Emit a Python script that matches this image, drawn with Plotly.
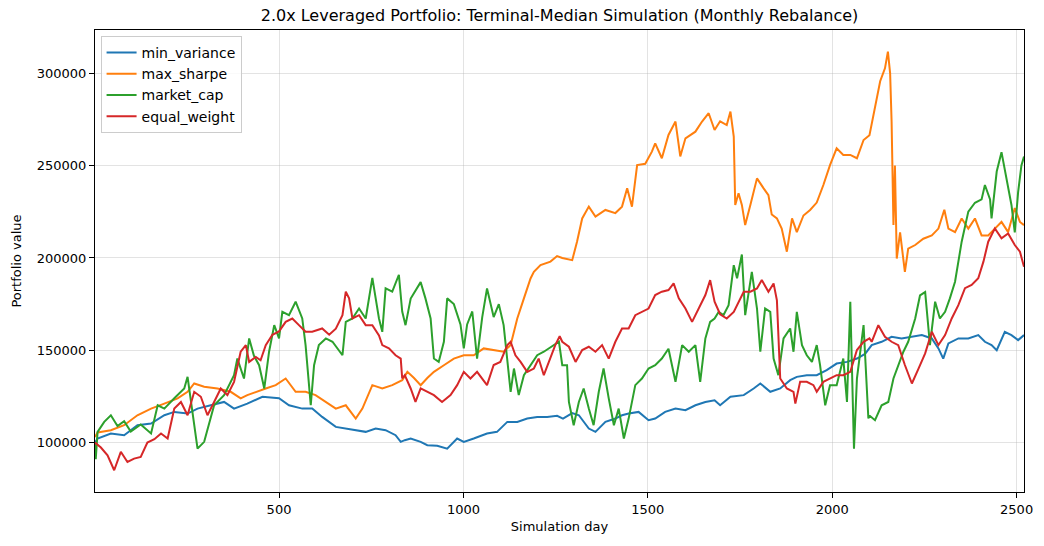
import plotly.graph_objects as go

mv_days = [1, 8, 44, 80, 116, 153, 189, 216, 252, 279, 315, 351, 378, 414, 455, 500, 527, 563, 590, 617, 654, 681, 708, 735, 762, 789, 816, 830, 841, 857, 884, 902, 929, 956, 983, 1001, 1028, 1064, 1091, 1119, 1146, 1173, 1200, 1227, 1254, 1270, 1295, 1313, 1340, 1358, 1385, 1412, 1430, 1448, 1475, 1502, 1520, 1547, 1575, 1602, 1629, 1656, 1681, 1696, 1724, 1760, 1787, 1805, 1832, 1859, 1886, 1904, 1931, 1958, 1985, 2012, 2040, 2067, 2089, 2107, 2134, 2161, 2188, 2216, 2243, 2270, 2288, 2301, 2315, 2342, 2369, 2396, 2414, 2432, 2446, 2468, 2486, 2504, 2520]
mv_vals = [100000, 102200, 104900, 104000, 109400, 110300, 114800, 116600, 115700, 118400, 120200, 122000, 118400, 121100, 124800, 124000, 120200, 118400, 118400, 113900, 108500, 107600, 106700, 105800, 107600, 106700, 104000, 100400, 101300, 102200, 100400, 98600, 98300, 96700, 102200, 100400, 102200, 104900, 105800, 111200, 111200, 113000, 113900, 113900, 114500, 113000, 116000, 114800, 107600, 105800, 111200, 113000, 114800, 115700, 116600, 112100, 113000, 116600, 118400, 117500, 120200, 122000, 122900, 120200, 124800, 125700, 129300, 132000, 127500, 129300, 133800, 135600, 136500, 136500, 139200, 142800, 143700, 145500, 148000, 152800, 154600, 157300, 156400, 157300, 158200, 156400, 151000, 145500, 153700, 156400, 156400, 158200, 154600, 152800, 150000, 160000, 158200, 155500, 158200]

ms_days = [1, 8, 44, 80, 116, 153, 189, 225, 252, 270, 297, 333, 369, 396, 414, 437, 464, 491, 518, 545, 572, 599, 627, 654, 681, 699, 708, 726, 753, 780, 807, 834, 848, 866, 884, 902, 920, 947, 974, 1001, 1028, 1055, 1082, 1109, 1128, 1146, 1164, 1182, 1191, 1209, 1236, 1254, 1268, 1295, 1308, 1322, 1340, 1358, 1385, 1412, 1430, 1444, 1457, 1471, 1493, 1511, 1520, 1538, 1556, 1575, 1588, 1602, 1629, 1647, 1665, 1681, 1696, 1714, 1724, 1733, 1737, 1746, 1755, 1764, 1778, 1796, 1814, 1827, 1836, 1850, 1863, 1877, 1891, 1904, 1922, 1940, 1958, 1976, 1994, 2012, 2030, 2049, 2067, 2085, 2101, 2116, 2130, 2143, 2151, 2157, 2161, 2166, 2170, 2175, 2184, 2197, 2206, 2225, 2247, 2270, 2288, 2304, 2315, 2333, 2351, 2369, 2387, 2405, 2423, 2441, 2459, 2477, 2495, 2509, 2520]
ms_vals = [103000, 105500, 106700, 109400, 114800, 118400, 121100, 123900, 127500, 132000, 130200, 129300, 127500, 123900, 125700, 127500, 129300, 131100, 134700, 127500, 127500, 125700, 122000, 118400, 120200, 115700, 113000, 118400, 131100, 129300, 131100, 133800, 138300, 135000, 131100, 135000, 138300, 141900, 145500, 147300, 147300, 151000, 150100, 149200, 152800, 167200, 178100, 188900, 192500, 196100, 198000, 201000, 200000, 198800, 208800, 221400, 227800, 222400, 226000, 224300, 227800, 237700, 227800, 250300, 251000, 257600, 262100, 254000, 266600, 273900, 255000, 264800, 268400, 273900, 278400, 269300, 274000, 272000, 279300, 265700, 228700, 235000, 228700, 217800, 228700, 243100, 237700, 234000, 223500, 221400, 215900, 203400, 221400, 214000, 223000, 226000, 230000, 239500, 250300, 259400, 255800, 255800, 254000, 263900, 266500, 281000, 295700, 302700, 311800, 300000, 273800, 217800, 250000, 199700, 213800, 192400, 205000, 207000, 210400, 212200, 215900, 226100, 215900, 214000, 221400, 215900, 221400, 212200, 212200, 215900, 219500, 214000, 227000, 219500, 217800]

mc_days = [1, 3, 8, 26, 44, 62, 80, 98, 125, 153, 171, 189, 216, 243, 252, 279, 297, 324, 351, 378, 387, 405, 419, 432, 446, 460, 473, 487, 500, 509, 527, 545, 563, 572, 586, 595, 608, 627, 645, 672, 681, 699, 717, 735, 753, 771, 780, 789, 807, 825, 834, 843, 857, 884, 897, 911, 920, 933, 947, 956, 974, 992, 1001, 1010, 1024, 1037, 1051, 1064, 1082, 1096, 1109, 1119, 1128, 1137, 1150, 1164, 1182, 1200, 1218, 1245, 1259, 1268, 1281, 1286, 1299, 1313, 1326, 1340, 1353, 1367, 1380, 1394, 1408, 1421, 1435, 1448, 1466, 1484, 1502, 1520, 1538, 1556, 1575, 1593, 1611, 1629, 1642, 1656, 1669, 1681, 1692, 1705, 1719, 1733, 1742, 1755, 1764, 1782, 1796, 1805, 1818, 1832, 1841, 1854, 1868, 1886, 1895, 1904, 1918, 1931, 1945, 1958, 1967, 1981, 1994, 2012, 2030, 2040, 2049, 2059, 2067, 2085, 2098, 2100, 2116, 2134, 2152, 2166, 2179, 2193, 2206, 2225, 2238, 2252, 2265, 2279, 2292, 2306, 2319, 2333, 2351, 2369, 2387, 2405, 2414, 2428, 2432, 2446, 2459, 2477, 2486, 2495, 2504, 2513, 2520]
mc_vals = [100000, 91000, 105800, 111200, 114800, 109000, 111600, 106000, 109800, 104900, 120200, 118400, 124000, 129300, 135600, 96700, 100400, 120200, 125700, 136500, 145500, 134700, 156400, 147000, 141900, 129300, 149200, 163600, 156400, 170800, 169000, 176300, 167200, 152800, 120200, 141900, 152800, 156400, 154600, 147300, 165400, 167200, 172600, 167200, 189200, 167200, 160000, 183500, 181700, 190900, 171000, 163600, 178000, 186900, 178100, 167200, 145500, 143700, 154600, 178100, 175000, 164000, 151000, 164000, 171000, 145500, 168000, 183500, 168000, 175000, 163600, 145500, 127500, 140100, 125700, 136500, 141900, 147300, 149200, 152800, 154600, 141900, 141900, 122000, 109400, 122000, 129300, 118400, 109400, 127500, 140100, 123900, 109400, 118400, 102200, 113000, 131100, 134700, 140100, 141900, 145500, 150800, 132900, 152800, 149200, 152800, 132900, 156400, 165400, 167200, 170800, 169000, 174400, 196100, 189000, 201900, 169000, 192500, 172600, 149200, 172600, 170800, 145500, 136500, 156400, 161800, 149200, 170800, 152800, 147300, 143700, 152800, 141900, 120200, 131100, 131100, 145500, 122000, 176300, 96700, 134700, 163600, 113000, 114800, 112100, 120200, 122000, 134700, 141900, 149200, 154600, 167200, 179700, 181500, 152800, 176300, 167200, 170800, 178100, 187100, 208800, 225100, 229900, 231700, 239500, 231700, 221400, 246800, 257300, 239500, 228700, 213800, 235500, 250100, 254900]

ew_days = [1, 17, 35, 53, 71, 89, 107, 125, 143, 162, 180, 198, 216, 234, 252, 270, 288, 306, 324, 342, 360, 378, 396, 410, 419, 437, 450, 464, 482, 500, 518, 536, 554, 572, 590, 617, 636, 654, 672, 681, 690, 699, 717, 735, 753, 771, 780, 798, 816, 830, 834, 841, 857, 870, 884, 902, 920, 942, 965, 983, 1001, 1019, 1037, 1064, 1082, 1100, 1119, 1128, 1141, 1155, 1173, 1191, 1204, 1218, 1236, 1249, 1261, 1268, 1286, 1304, 1322, 1340, 1358, 1376, 1394, 1412, 1430, 1448, 1466, 1484, 1502, 1520, 1538, 1556, 1570, 1584, 1602, 1620, 1638, 1656, 1669, 1681, 1696, 1714, 1733, 1746, 1760, 1778, 1796, 1809, 1827, 1841, 1850, 1859, 1877, 1895, 1900, 1913, 1931, 1949, 1958, 1976, 1994, 2012, 2030, 2049, 2067, 2085, 2101, 2107, 2125, 2143, 2161, 2179, 2197, 2216, 2234, 2252, 2270, 2288, 2306, 2324, 2342, 2360, 2378, 2396, 2410, 2423, 2441, 2459, 2477, 2495, 2509, 2520]
ew_vals = [100000, 97300, 93100, 85000, 95000, 89500, 91300, 92200, 100000, 101800, 104900, 102200, 118400, 122000, 114800, 127500, 124800, 114800, 122000, 129300, 125700, 132900, 149200, 152800, 143700, 146400, 144600, 152800, 158400, 160200, 165400, 167200, 163600, 160000, 160000, 161800, 158400, 161700, 169000, 181700, 178100, 167200, 169000, 163600, 163600, 158000, 152800, 151000, 147300, 145500, 134700, 136500, 129300, 122000, 129300, 127500, 125700, 122000, 125700, 131100, 138300, 134700, 138300, 131100, 142000, 143700, 152800, 154600, 147300, 143700, 138300, 140100, 145500, 136500, 145500, 152800, 157600, 154600, 151900, 143700, 150100, 151900, 149200, 152800, 145500, 154600, 161800, 161800, 169000, 170800, 172600, 179900, 181700, 182600, 186200, 178100, 172600, 165400, 172600, 179900, 188000, 176300, 169500, 167200, 170800, 176300, 181700, 181700, 183500, 188000, 181700, 186200, 177000, 134700, 129300, 127500, 121100, 132900, 132900, 131100, 127500, 132900, 134700, 136500, 136500, 138300, 150100, 154600, 156400, 154600, 163600, 157300, 154600, 152800, 142000, 132000, 140100, 148300, 160000, 152800, 158200, 167200, 174400, 183600, 185400, 189000, 198000, 208800, 216000, 210600, 213300, 207000, 203400, 195200]

series = [
    ("min_variance", mv_days, mv_vals, "#1f77b4"),
    ("max_sharpe", ms_days, ms_vals, "#ff7f0e"),
    ("market_cap", mc_days, mc_vals, "#2ca02c"),
    ("equal_weight", ew_days, ew_vals, "#d62728"),
]

fig = go.Figure()
for name, xs, ys, color in series:
    fig.add_trace(go.Scatter(x=xs, y=ys, mode="lines", name=name,
                             line=dict(color=color, width=2)))

axis_common = dict(showline=True, linecolor="black", linewidth=1, mirror=True,
                   ticks="outside", ticklen=5, tickcolor="black",
                   showgrid=True, gridcolor="rgba(176,176,176,0.35)", gridwidth=1,
                   zeroline=False, tickfont=dict(size=13, color="black"))

fig.update_layout(
    width=1044, height=546,
    margin=dict(l=95, r=20, t=30, b=54),
    paper_bgcolor="white", plot_bgcolor="white",
    font=dict(family="DejaVu Sans", color="black"),
    title=dict(text="2.0x Leveraged Portfolio: Terminal-Median Simulation (Monthly Rebalance)",
               x=0.5, xref="paper", y=0.972, yref="container", xanchor="center", yanchor="middle",
               font=dict(size=16, color="black")),
    showlegend=True,
    legend=dict(x=0.006, y=0.987, xanchor="left", yanchor="top",
                bgcolor="rgba(255,255,255,0.8)", bordercolor="#cccccc", borderwidth=1,
                font=dict(size=14, color="black"), tracegroupgap=0, itemwidth=30),
    xaxis=dict(range=[1, 2520], tickvals=[500, 1000, 1500, 2000, 2500],
               title=dict(text="Simulation day", font=dict(size=13), standoff=6), **axis_common),
    yaxis=dict(range=[73225, 323470], tickvals=[100000, 150000, 200000, 250000, 300000],
               tickformat="d",
               title=dict(text="Portfolio value", font=dict(size=13), standoff=12), **axis_common),
)

fig.write_html("out.html")
